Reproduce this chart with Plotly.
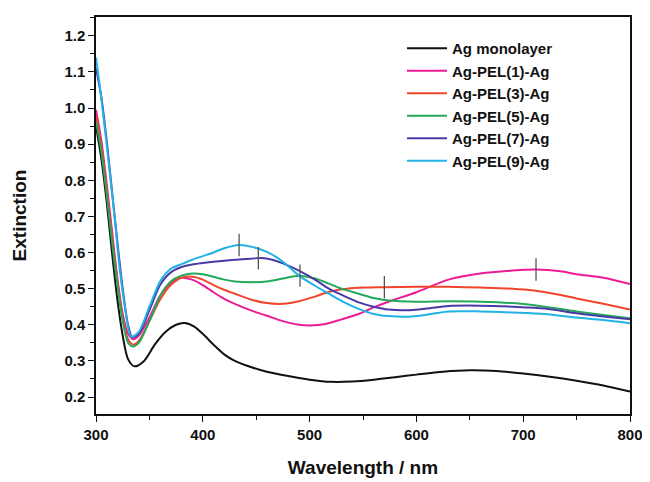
import plotly.graph_objects as go

# ---- data ----
x_mono = [300, 305, 310, 315, 320, 325, 330, 336, 345, 355, 365, 375, 383, 392, 400, 410, 420, 430, 445, 460, 480, 500, 520, 540, 560, 580, 600, 625, 650, 675, 700, 725, 750, 775, 800]
y_mono = [0.95, 0.86, 0.74, 0.60, 0.47, 0.37, 0.305, 0.285, 0.30, 0.345, 0.38, 0.40, 0.405, 0.395, 0.375, 0.345, 0.318, 0.30, 0.283, 0.27, 0.258, 0.248, 0.242, 0.243, 0.248, 0.255, 0.262, 0.27, 0.274, 0.272, 0.265, 0.256, 0.245, 0.232, 0.215]

x_p1 = [300, 305, 310, 315, 320, 325, 330, 335, 340, 350, 360, 370, 380, 390, 400, 410, 420, 430, 445, 460, 475, 490, 500, 515, 530, 546, 560, 575, 600, 630, 660, 690, 712, 735, 750, 775, 800]
y_p1 = [0.995, 0.91, 0.79, 0.66, 0.53, 0.43, 0.375, 0.36, 0.37, 0.42, 0.48, 0.515, 0.53, 0.525, 0.51, 0.49, 0.472, 0.458, 0.44, 0.425, 0.41, 0.40, 0.398, 0.402, 0.415, 0.43, 0.448, 0.465, 0.49, 0.525, 0.542, 0.55, 0.553, 0.548, 0.54, 0.53, 0.513]

x_p3 = [300, 305, 310, 315, 320, 325, 330, 335, 340, 350, 360, 370, 380, 390, 400, 410, 420, 430, 445, 460, 475, 490, 505, 520, 535, 550, 570, 600, 630, 660, 690, 710, 730, 750, 775, 800]
y_p3 = [0.98, 0.895, 0.775, 0.645, 0.52, 0.42, 0.36, 0.345, 0.355, 0.41, 0.47, 0.51, 0.53, 0.533, 0.525, 0.51, 0.497, 0.486, 0.47, 0.46, 0.458, 0.465, 0.478, 0.493, 0.50, 0.503, 0.504, 0.505, 0.505, 0.503, 0.50, 0.495, 0.485, 0.473, 0.458, 0.442]

x_p5 = [300, 305, 310, 315, 320, 325, 330, 334, 340, 350, 360, 370, 380, 390, 400, 410, 420, 430, 445, 460, 475, 490, 505, 518, 530, 546, 560, 574, 600, 630, 660, 690, 720, 750, 775, 800]
y_p5 = [0.963, 0.88, 0.76, 0.63, 0.51, 0.41, 0.35, 0.34, 0.35, 0.41, 0.48, 0.52, 0.536, 0.542, 0.54, 0.533, 0.525, 0.52, 0.518, 0.52, 0.528, 0.536, 0.528, 0.514, 0.50, 0.486, 0.474, 0.467, 0.464, 0.465, 0.464, 0.46, 0.45, 0.437, 0.427, 0.418]

x_p7 = [300, 305, 310, 315, 320, 325, 330, 334, 340, 350, 360, 370, 380, 390, 400, 415, 430, 445, 455, 465, 475, 490, 505, 518, 532, 546, 560, 574, 590, 610, 630, 660, 690, 720, 750, 775, 800]
y_p7 = [1.11, 1.03, 0.91, 0.77, 0.63, 0.50, 0.40, 0.365, 0.375, 0.44, 0.51, 0.545, 0.56, 0.567, 0.571, 0.576, 0.58, 0.583, 0.585, 0.58, 0.57, 0.55, 0.525, 0.50, 0.48, 0.462, 0.45, 0.442, 0.44, 0.445, 0.452, 0.453, 0.45, 0.445, 0.432, 0.423, 0.415]

x_p9 = [300, 304, 308, 313, 318, 322, 327, 333, 340, 350, 360, 370, 380, 390, 400, 410, 420, 434, 447, 460, 471, 480, 490, 505, 518, 532, 546, 560, 574, 590, 610, 630, 660, 690, 720, 750, 775, 800]
y_p9 = [1.14, 1.05, 0.95, 0.82, 0.68, 0.56, 0.45, 0.367, 0.38, 0.45, 0.52, 0.555, 0.568, 0.58, 0.59, 0.60, 0.612, 0.621, 0.615, 0.602, 0.583, 0.562, 0.536, 0.508, 0.486, 0.463, 0.444, 0.43, 0.424, 0.422, 0.428, 0.437, 0.437, 0.434, 0.43, 0.42, 0.413, 0.404]

# peak marks (vertical ticks)
peak_x = [712, 570, 491, 452, 434]
peak_y = [0.553, 0.504, 0.536, 0.584, 0.621]

names = ["Ag monolayer", "Ag-PEL(1)-Ag", "Ag-PEL(3)-Ag", "Ag-PEL(5)-Ag", "Ag-PEL(7)-Ag", "Ag-PEL(9)-Ag"]
colors = ["#111111", "#ec1b96", "#f0452c", "#24a95c", "#4a3aa6", "#22b2e6"]

series = [(x_mono, y_mono), (x_p1, y_p1), (x_p3, y_p3), (x_p5, y_p5), (x_p7, y_p7), (x_p9, y_p9)]

fig = go.Figure()
for (xs, ys), n, c in zip(series, names, colors):
    fig.add_trace(go.Scatter(x=xs, y=ys, mode="lines", name=n,
                             line=dict(color=c, width=2, shape="spline", smoothing=0.8)))

fig.add_trace(go.Scatter(x=peak_x, y=peak_y, mode="markers", showlegend=False,
                         marker=dict(symbol="line-ns", size=16,
                                     line=dict(color="#555555", width=1.3))))

font_family = "Arial, Liberation Sans, sans-serif"
fig.update_layout(
    width=642, height=474,
    margin=dict(l=88, r=18, t=7, b=68),
    paper_bgcolor="white", plot_bgcolor="white",
    font=dict(family=font_family, color="#111111"),
    showlegend=True,
    legend=dict(x=0.573, y=0.962, xanchor="left", yanchor="top",
                bgcolor="rgba(0,0,0,0)", font=dict(size=15, family=font_family, weight="bold"),
                itemwidth=40, tracegroupgap=0),
    xaxis=dict(range=[300, 800], dtick=100, tick0=300, showgrid=False, zeroline=False,
               showline=True, linecolor="#111111", linewidth=1.5, mirror=True,
               ticks="outside", ticklen=6, tickwidth=1.3, tickcolor="#111111",
               minor=dict(dtick=50, ticks="outside", ticklen=4, tickwidth=1.2, tickcolor="#111111"),
               tickfont=dict(size=15, family=font_family, weight="bold"),
               title=dict(text="Wavelength / nm", font=dict(size=19, family=font_family, weight="bold"), standoff=19)),
    yaxis=dict(range=[0.153, 1.252], dtick=0.1, tick0=0.2, tickformat=".1f", showgrid=False, zeroline=False,
               showline=True, linecolor="#111111", linewidth=1.5, mirror=True,
               ticks="outside", ticklen=6, tickwidth=1.3, tickcolor="#111111",
               minor=dict(dtick=0.05, ticks="outside", ticklen=4, tickwidth=1.2, tickcolor="#111111"),
               tickfont=dict(size=15, family=font_family, weight="bold"),
               title=dict(text="Extinction", font=dict(size=19, family=font_family, weight="bold"), standoff=33)),
)

fig.write_html("out.html", config={"displayModeBar": False})
